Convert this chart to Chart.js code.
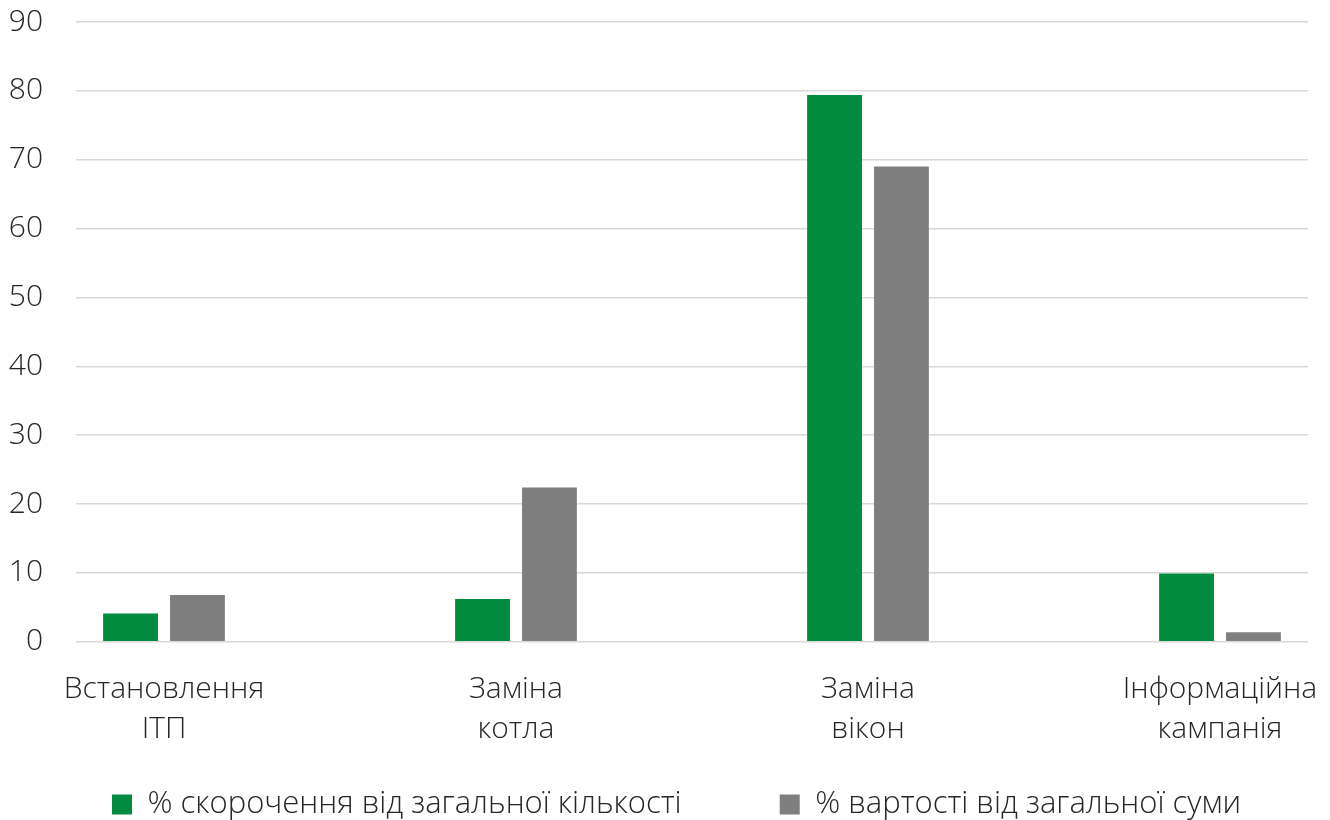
<!DOCTYPE html>
<html>
<head>
<meta charset="utf-8">
<script src="https://cdn.jsdelivr.net/npm/chart.js@4/dist/chart.umd.min.js"></script>
<style>
  html, body { margin: 0; padding: 0; background: #fff; }
  #wrap { width: 1330px; height: 820px; position: relative; }
</style>
</head>
<body>
<div id="wrap"><canvas id="grafik"></canvas></div>
<script>
const categories = [["Встановлення", "ІТП"], ["Заміна", "котла"], ["Заміна", "вікон"], ["Інформаційна", "кампанія"]];
const seriesNames = ["% скорочення від загальної кількості", "% вартості від загальної суми"];
const skorochennya = [4.1, 6.2, 79.4, 9.9];
const vartist = [6.8, 22.4, 69.0, 1.4];
const yTicks = [0, 10, 20, 30, 40, 50, 60, 70, 80, 90];

const font = "'Open Sans', 'Noto Sans', sans-serif";
const textColor = "#262626";

const toPoints = arr => arr.map((v, i) => ({ x: i, y: v }));

new Chart(document.getElementById("grafik"), {
  type: "bar",
  data: {
    datasets: [
      {
        label: seriesNames[0],
        data: toPoints(skorochennya),
        backgroundColor: "#008c3e",
        categoryPercentage: 0.38,
        barPercentage: 0.82
      },
      {
        label: seriesNames[1],
        data: toPoints(vartist),
        backgroundColor: "#7f7f7f",
        categoryPercentage: 0.38,
        barPercentage: 0.82
      }
    ]
  },
  options: {
    responsive: true,
    maintainAspectRatio: false,
    animation: false,
    layout: { padding: { top: 22, left: 9, right: 22, bottom: -10 } },
    plugins: {
      tooltip: { enabled: false },
      legend: {
        position: "bottom",
        fullSize: false,
        labels: {
          font: { family: font, size: 31, weight: "300" },
          color: textColor,
          boxWidth: 20,
          boxHeight: 20,
          padding: 0,
          // gap between items + nudge whole legend a bit left
          generateLabels: chart => {
            const items = Chart.defaults.plugins.legend.labels.generateLabels(chart);
            items[0].text = items[0].text + "\u2003\u2003\u2003\u2009";
            items[1].text = items[1].text + "\u2003";
            return items;
          }
        }
      }
    },
    scales: {
      x: {
        type: "linear",
        offset: false,
        min: -0.25,
        max: 3.25,
        grid: { display: false },
        border: { display: false },
        afterBuildTicks: axis => { axis.ticks = categories.map((c, i) => ({ value: i })); },
        // labels may hang past the plot edges, like in the original
        afterFit: axis => { axis.paddingLeft = 0; axis.paddingRight = 0; axis.height += 20; },
        ticks: {
          autoSkip: false,
          maxRotation: 0,
          padding: 20,
          color: textColor,
          font: { family: font, size: 30, weight: "300", lineHeight: 1.32 },
          callback: v => categories[v]
        }
      },
      y: {
        min: 0,
        max: 90,
        afterBuildTicks: axis => { axis.ticks = yTicks.map(v => ({ value: v })); },
        afterFit: axis => { axis.paddingTop = 0; axis.paddingBottom = 0; axis.width = 67; },
        grid: { color: "#d9d9d9", lineWidth: 1.6, drawTicks: false },
        border: { display: false },
        ticks: {
          padding: 33,
          color: textColor,
          font: { family: font, size: 30, weight: "300" }
        }
      }
    }
  }
});
</script>
</body>
</html>
